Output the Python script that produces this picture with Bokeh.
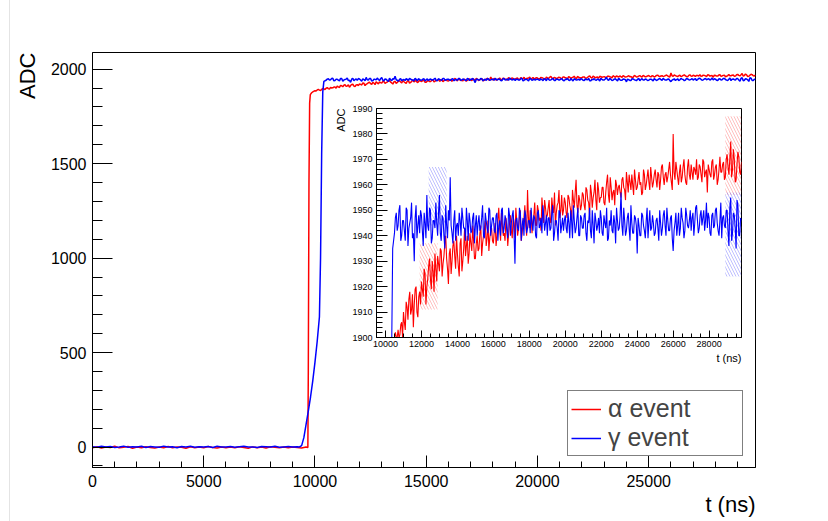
import numpy as np
from bokeh.plotting import figure
from bokeh.models import Range1d, SingleIntervalTicker, Legend, LegendItem, Title
from bokeh.layouts import column
from bokeh.embed import file_html
from bokeh.resources import INLINE

# ---------------- data ----------------
base_t0 = 0          # ns, baseline sampling start
base_dt = 200        # ns, baseline sampling step
tail_dt = 100        # ns, tail sampling step
mid_offset = 50      # ns, the "mid" lists are read half-way between the tail samples

# alpha event (red)
red_base = [-3, 2, -5, 0, -2, 4, -4, -1, 3, -6,
            0, -3, 2, -2, -5, 1, -3, 3, -4, 0,
            -1, -6, 2, -3, 0, -4, 3, -2, -5, 1,
            -3, 0, -4, 2, -2, -6, 1, -3, 0, -5,
            2, -1, -4, 1, -3, 0, -2, -5, 0]
red_rise_t = [9680, 9700, 9730, 9760, 9790, 9850, 9920]
red_rise_v = [-2, 400, 1400, 1820, 1865, 1875, 1881]
red_tail_t0 = 10000
red_tail = [1886, 1890, 1889, 1893, 1895, 1899, 1897, 1903, 1901, 1906,
            1910, 1903, 1912, 1915, 1909, 1917, 1913, 1920, 1908, 1918,
            1922, 1916, 1925, 1920, 1928, 1923, 1930, 1918, 1927, 1932,
            1926, 1934, 1929, 1937, 1931, 1921, 1935, 1930, 1938, 1927,
            1933, 1924, 1939, 1930, 1943, 1936, 1929, 1941, 1934, 1938,
            1931, 1940, 1935, 1944, 1937, 1942, 1936, 1946, 1939, 1943,
            1937, 1945, 1940, 1951, 1938, 1944, 1941, 1947, 1936, 1945,
            1942, 1948, 1939, 1946, 1943, 1950, 1941, 1947, 1944, 1958,
            1943, 1949, 1946, 1953, 1944, 1950, 1947, 1955, 1945, 1951,
            1948, 1954, 1945, 1951, 1957, 1949, 1953, 1947, 1956, 1950,
            1953, 1947, 1955, 1950, 1958, 1951, 1962, 1949, 1954, 1952,
            1956, 1950, 1958, 1953, 1960, 1951, 1957, 1954, 1961, 1953,
            1955, 1959, 1952, 1961, 1956, 1963, 1954, 1958, 1962, 1956,
            1960, 1955, 1963, 1958, 1965, 1957, 1961, 1964, 1956, 1962,
            1959, 1965, 1961, 1957, 1964, 1960, 1966, 1958, 1963, 1961,
            1966, 1959, 1964, 1962, 1968, 1960, 1965, 1963, 1969, 1961,
            1980, 1962, 1966, 1960, 1968, 1963, 1970, 1961, 1967, 1964,
            1968, 1962, 1966, 1970, 1963, 1967, 1961, 1969, 1965, 1957,
            1966, 1963, 1970, 1964, 1968, 1962, 1971, 1965, 1969, 1963,
            1972, 1964, 1977, 1966, 1970, 1962, 1973, 1965, 1969]
red_tail_mid = [1884, 1893, 1887, 1897, 1892, 1902, 1894, 1900, 1905, 1899,
                1906, 1914, 1907, 1918, 1911, 1904, 1919, 1910, 1916, 1913,
                1919, 1927, 1913, 1923, 1931, 1919, 1926, 1933, 1922, 1929,
                1935, 1924, 1932, 1940, 1927, 1933, 1925, 1936, 1932, 1940,
                1928, 1937, 1926, 1935, 1932, 1940, 1933, 1937, 1944, 1931,
                1937, 1934, 1941, 1932, 1940, 1946, 1939, 1934, 1942, 1938,
                1942, 1936, 1946, 1943, 1949, 1940, 1938, 1944, 1941, 1948,
                1939, 1945, 1951, 1940, 1947, 1938, 1945, 1952, 1940, 1947,
                1950, 1941, 1948, 1944, 1952, 1946, 1942, 1950, 1954, 1947,
                1951, 1946, 1955, 1949, 1944, 1952, 1958, 1950, 1948, 1955,
                1949, 1956, 1952, 1946, 1954, 1957, 1952, 1956, 1950, 1957,
                1952, 1959, 1954, 1948, 1957, 1955, 1962, 1950, 1958, 1955,
                1959, 1953, 1957, 1964, 1953, 1959, 1957, 1952, 1960, 1959,
                1957, 1962, 1959, 1954, 1961, 1964, 1958, 1960, 1966, 1958,
                1962, 1960, 1956, 1966, 1958, 1963, 1961, 1967, 1959, 1964,
                1962, 1965, 1958, 1967, 1963, 1964, 1961, 1966, 1964, 1958,
                1965, 1969, 1963, 1965, 1961, 1967, 1964, 1960, 1970, 1962,
                1965, 1967, 1964, 1962, 1968, 1964, 1970, 1963, 1966, 1968,
                1964, 1969, 1962, 1967, 1960, 1966, 1965, 1968, 1962, 1970,
                1967, 1970, 1963, 1974, 1961, 1968, 1971, 1964]

# gamma event (blue)
blue_base = [2, -1, 4, 0, 3, -2, 1, 5, -1, 2,
             0, 4, -2, 3, 1, -1, 5, 0, 2, -3,
             3, 1, 4, -1, 2, 0, 3, -2, 4, 1,
             0, 3, -1, 2, 5, 0, 1, -2, 3, 2,
             0, 4, -1, 1, 3, 0, 2]
blue_rise_t = [9300, 9400, 9500, 9600, 9700, 9800, 9900, 10000, 10100, 10200, 10250, 10300, 10350, 10400]
blue_rise_v = [1, 8, 50, 120, 190, 265, 350, 450, 560, 690, 1000, 1550, 1880, 1935]
blue_tail_t0 = 10500
blue_tail = [1941, 1949, 1944, 1952, 1940,
             1946, 1938, 1950, 1943, 1947, 1939, 1930, 1952, 1944, 1941,
             1948, 1936, 1945, 1956, 1942, 1950, 1939, 1946, 1953, 1940,
             1956, 1938, 1947, 1935, 1944, 1950, 1963, 1941, 1946, 1938,
             1945, 1949, 1940, 1947, 1943, 1951, 1938, 1946, 1942, 1949,
             1944, 1940, 1948, 1943, 1952, 1939, 1946, 1941, 1950, 1944,
             1947, 1941, 1949, 1944, 1940, 1951, 1943, 1946, 1939, 1948,
             1945, 1950, 1929, 1947, 1942, 1949, 1944, 1940, 1948, 1943,
             1946, 1951, 1942, 1947, 1939, 1950, 1944, 1941, 1948, 1945,
             1940, 1947, 1943, 1952, 1941, 1946, 1938, 1949, 1944, 1942,
             1948, 1941, 1945, 1950, 1939, 1946, 1943, 1951, 1940, 1947,
             1943, 1949, 1938, 1945, 1942, 1950, 1937, 1946, 1944, 1941,
             1947, 1940, 1945, 1951, 1939, 1944, 1942, 1948, 1937, 1946,
             1943, 1957, 1940, 1946, 1942, 1949, 1938, 1945, 1941, 1947,
             1933, 1944, 1940, 1948, 1942, 1946, 1939, 1950, 1943, 1945,
             1941, 1947, 1938, 1945, 1943, 1950, 1940, 1946, 1942, 1948,
             1934, 1945, 1940, 1949, 1943, 1947, 1939, 1951, 1944, 1946,
             1942, 1949, 1945, 1952, 1941, 1948, 1944, 1950, 1946, 1943,
             1947, 1940, 1949, 1944, 1951, 1942, 1946, 1939, 1948, 1943,
             1950, 1936, 1955, 1941, 1948, 1935, 1952, 1940, 1946]
blue_tail_mid = [1947, 1942, 1950, 1938, 1946,
                 1942, 1951, 1936, 1945, 1953, 1941, 1947, 1939, 1948, 1950,
                 1942, 1949, 1939, 1944, 1951, 1937, 1946, 1943, 1945, 1949,
                 1941, 1948, 1940, 1952, 1939, 1946, 1944, 1937, 1950, 1944,
                 1940, 1946, 1951, 1943, 1938, 1946, 1949, 1941, 1947, 1937,
                 1948, 1945, 1942, 1947, 1940, 1949, 1943, 1951, 1940, 1947,
                 1942, 1948, 1938, 1946, 1950, 1941, 1948, 1942, 1951, 1940,
                 1948, 1941, 1946, 1943, 1951, 1938, 1947, 1950, 1941, 1946,
                 1941, 1945, 1948, 1940, 1949, 1943, 1947, 1952, 1942, 1948,
                 1947, 1942, 1949, 1938, 1946, 1943, 1950, 1941, 1947, 1946,
                 1943, 1949, 1939, 1946, 1952, 1941, 1947, 1940, 1948, 1943,
                 1948, 1941, 1946, 1951, 1939, 1944, 1949, 1942, 1947, 1950,
                 1941, 1948, 1943, 1938, 1946, 1950, 1941, 1945, 1951, 1942,
                 1948, 1944, 1951, 1940, 1947, 1943, 1952, 1941, 1948, 1944,
                 1947, 1940, 1949, 1944, 1939, 1951, 1945, 1942, 1948, 1940,
                 1946, 1943, 1950, 1940, 1948, 1944, 1951, 1942, 1947, 1939,
                 1942, 1949, 1944, 1940, 1951, 1945, 1942, 1948, 1943, 1950,
                 1947, 1940, 1951, 1946, 1943, 1950, 1947, 1942, 1953, 1949,
                 1941, 1948, 1943, 1950, 1945, 1940, 1953, 1947, 1944, 1950,
                 1942, 1951, 1938, 1949, 1943, 1954, 1940, 1947]

# hatched bands in the inset
hatch_left = [11900, 12400, 28900, 28900]
hatch_right = [12900, 13400, 29800, 29800]
hatch_bottom = [1911, 1944, 1956, 1924]
hatch_top = [1937, 1967, 1987, 1957]
hatch_color = ["#ff6060", "#6060ff", "#ff6060", "#6060ff"]

series_labels = ["\u03b1 event", "\u03b3 event"]
x_title = "t (ns)"
y_title = "ADC"


# ---------------- assemble series ----------------
def build(base, rise_t, rise_v, tail_t0, tail, tail_mid):
    t = np.concatenate([base_t0 + base_dt * np.arange(len(base)),
                        np.array(rise_t, dtype=float),
                        tail_t0 + tail_dt * np.arange(len(tail)),
                        tail_t0 + mid_offset + tail_dt * np.arange(len(tail_mid))])
    v = np.concatenate([base, rise_v, tail, tail_mid]).astype(float)
    order = np.argsort(t, kind="stable")
    return t[order], v[order]


t_red, v_red = build(red_base, red_rise_t, red_rise_v, red_tail_t0, red_tail, red_tail_mid)
t_blue, v_blue = build(blue_base, blue_rise_t, blue_rise_v, blue_tail_t0, blue_tail, blue_tail_mid)

FONT = "Liberation Sans"
RED = "#ff0000"
BLUE = "#0000ff"


def style_axis(ax, font_size, major_in, minor_in, standoff):
    ax.major_tick_out = 0
    ax.minor_tick_out = 0
    ax.major_tick_in = major_in
    ax.minor_tick_in = minor_in
    ax.axis_line_color = "black"
    ax.major_tick_line_color = "black"
    ax.minor_tick_line_color = "black"
    ax.major_label_text_font = FONT
    ax.major_label_text_font_size = font_size
    ax.major_label_text_color = "black"
    ax.major_label_standoff = standoff


def add_title(fig, text, side, size, standoff):
    fig.add_layout(Title(text=text, align="right", text_font=FONT, text_font_size=size,
                         text_font_style="normal", text_color="black",
                         standoff=standoff, offset=0), side)


def no_frame_align(fig):
    try:
        fig.frame_align = False
        return True
    except Exception:
        return False


# ---------------- main figure ----------------
p = figure(width=828, height=521, x_range=Range1d(0, 29800), y_range=Range1d(-108, 2088),
           output_backend="svg", toolbar_location=None,
           min_border_left=92, min_border_right=73, min_border_top=52, min_border_bottom=54)
p.xgrid.visible = False
p.ygrid.visible = False
p.outline_line_color = "black"
p.outline_line_width = 1
p.background_fill_color = "white"
p.border_fill_alpha = 0

p.xaxis.ticker = SingleIntervalTicker(interval=5000, num_minor_ticks=5)
p.yaxis.ticker = SingleIntervalTicker(interval=500, num_minor_ticks=5)
style_axis(p.xaxis[0], "16px", 12, 6, 7)
style_axis(p.yaxis[0], "16px", 20, 10, 6)
add_title(p, x_title, "below", "22px", 0)
add_title(p, y_title, "left", "22px", 15)

r_red = p.line(t_red, v_red, line_color=RED, line_width=1.5)
r_blue = p.line(t_blue, v_blue, line_color=BLUE, line_width=1.5)

legend = Legend(items=[LegendItem(label=series_labels[0], renderers=[r_red]),
                       LegendItem(label=series_labels[1], renderers=[r_blue])],
                location=(475, 11), orientation="vertical",
                border_line_color="black", border_line_width=1,
                background_fill_color="white", background_fill_alpha=1,
                label_text_font=FONT, label_text_font_size="25px",
                glyph_width=30, glyph_height=26, label_height=26, label_width=131,
                padding=3, spacing=0, label_standoff=7, margin=0)
p.add_layout(legend)

# ---------------- inset ----------------
ymin_in = 1900
ok_main = no_frame_align(p)
b_left, b_right = (50, 5) if ok_main else (92, 73)
in_left = 376 - b_left
in_width = 365 + b_left + b_right
inset = figure(width=in_width, height=270, x_range=Range1d(9500, 29800), y_range=Range1d(ymin_in, 1990),
               output_backend="svg", toolbar_location=None,
               min_border_left=b_left, min_border_right=b_right, min_border_top=11, min_border_bottom=30)
no_frame_align(inset)
inset.xgrid.visible = False
inset.ygrid.visible = False
inset.outline_line_color = "black"
inset.outline_line_width = 1
inset.background_fill_color = "white"
inset.border_fill_alpha = 0
inset.styles = {"position": "absolute", "left": f"{in_left}px", "top": "97px",
                "width": f"{in_width}px", "height": "270px"}

inset.xaxis.ticker = SingleIntervalTicker(interval=2000, num_minor_ticks=4)
inset.yaxis.ticker = SingleIntervalTicker(interval=10, num_minor_ticks=5)
style_axis(inset.xaxis[0], "9px", 7, 4, 3)
style_axis(inset.yaxis[0], "9px", 11, 6, 4)
add_title(inset, x_title, "below", "11px", 0)
add_title(inset, y_title, "left", "11px", 5)

inset.quad(left=hatch_left, right=hatch_right, bottom=hatch_bottom, top=hatch_top,
           fill_alpha=0, line_alpha=0, hatch_pattern="\\", hatch_color=hatch_color,
           hatch_alpha=0.4, hatch_scale=6, hatch_weight=1)
inset.line(t_red, np.maximum(v_red, ymin_in), line_color=RED, line_width=1.1)
inset.line(t_blue, np.maximum(v_blue, ymin_in), line_color=BLUE, line_width=1.1)

page_styles = {"position": "relative", "background-color": "white",
               "background-image": "linear-gradient(to right, transparent 9px, #e4e4e4 9px, "
                                   "#e4e4e4 10px, transparent 10px)"}
layout = column(p, inset, styles=page_styles)
open("out.html", "w").write(file_html(layout, INLINE))
